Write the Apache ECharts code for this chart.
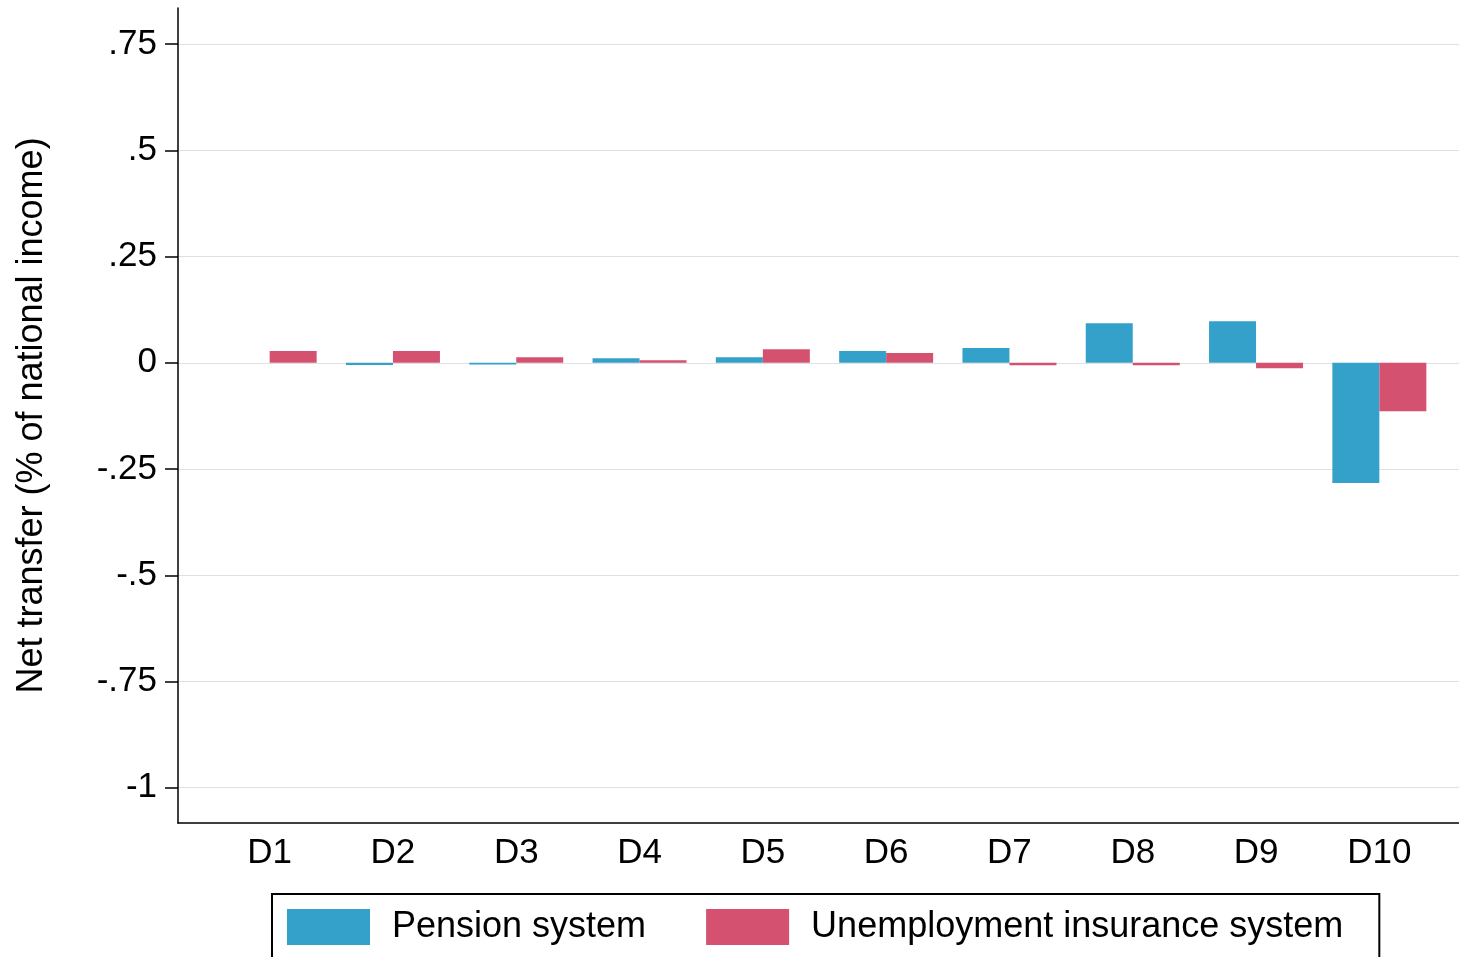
<!DOCTYPE html>
<html><head><meta charset="utf-8">
<script src="https://cdn.jsdelivr.net/npm/echarts@6/dist/echarts.min.js"></script>
<style>html,body{margin:0;padding:0;background:#fff}#c{width:1459px;height:957px}</style>
</head><body><div id="c"></div>
<script>
const categories = ['D1','D2','D3','D4','D5','D6','D7','D8','D9','D10'];
const pension = [0, -0.005, -0.004, 0.011, 0.013, 0.0275, 0.035, 0.093, 0.098, -0.283];
const unemployment = [0.0275, 0.0275, 0.013, 0.006, 0.032, 0.023, -0.006, -0.006, -0.013, -0.114];
const yTicks = [-1, -0.75, -0.5, -0.25, 0, 0.25, 0.5, 0.75];
const yMin = -1.083, yMax = 0.835;
const FONT = '"Liberation Sans", Arial, sans-serif';

function fmt(v){
  if (Math.abs(v) < 1e-9) return '0';
  let s = String(Math.round(v*100)/100);
  return s.replace(/^(-?)0\./, '$1.');
}

const chart = echarts.init(document.getElementById('c'));
chart.setOption({
  animation: false,
  backgroundColor: '#fff',
  textStyle: { fontFamily: FONT },
  grid: [
    { left: 178, right: 0, top: 8, bottom: 134 },
    { left: 208, right: 18, top: 8, bottom: 134 }
  ],
  xAxis: [
    { gridIndex: 0, type: 'value', min: 0, max: 1,
      axisLine: { show: true, onZero: false, lineStyle: { color: '#000', width: 1.5 } },
      axisTick: { show: false }, axisLabel: { show: false }, splitLine: { show: false } },
    { gridIndex: 1, type: 'category', data: categories,
      axisLine: { show: false }, axisTick: { show: false },
      axisLabel: { color: '#000', fontSize: 35, margin: 13, fontFamily: FONT } }
  ],
  yAxis: [
    { gridIndex: 0, type: 'value', min: yMin, max: yMax,
      name: 'Net transfer (% of national income)', nameLocation: 'middle', nameGap: 128,
      nameTextStyle: { color: '#000', fontSize: 36, fontFamily: FONT },
      axisLine: { show: true, lineStyle: { color: '#000', width: 1.5 } },
      axisTick: { show: true, length: 13, lineStyle: { color: '#000', width: 1.5 }, customValues: yTicks },
      axisLabel: { color: '#000', fontSize: 35, margin: 21, fontFamily: FONT, customValues: yTicks, formatter: fmt,
        padding: [3, 0, 0, 0] },
      splitLine: { show: true, lineStyle: { color: '#e0e0e0', width: 1.2 } } },
    { gridIndex: 1, type: 'value', min: yMin, max: yMax, show: false,
      splitLine: { show: false } }
  ],
  legend: {
    left: 272, top: 894,
    padding: [15, 36, 15, 15],
    borderColor: '#000', borderWidth: 2,
    itemWidth: 83, itemHeight: 36, itemGap: 60,
    icon: 'rect',
    textStyle: { color: '#000', fontSize: 36, fontFamily: FONT, padding: [3, 0, 0, 17] },
    data: ['Pension system', 'Unemployment insurance system']
  },
  series: [
    { name: 'Pension system', type: 'bar', xAxisIndex: 1, yAxisIndex: 1,
      data: pension, barWidth: 47, barGap: '0%', itemStyle: { color: '#33a1c9' } },
    { name: 'Unemployment insurance system', type: 'bar', xAxisIndex: 1, yAxisIndex: 1,
      data: unemployment, barWidth: 47, barGap: '0%', itemStyle: { color: '#d45270' } }
  ]
});
</script></body></html>
